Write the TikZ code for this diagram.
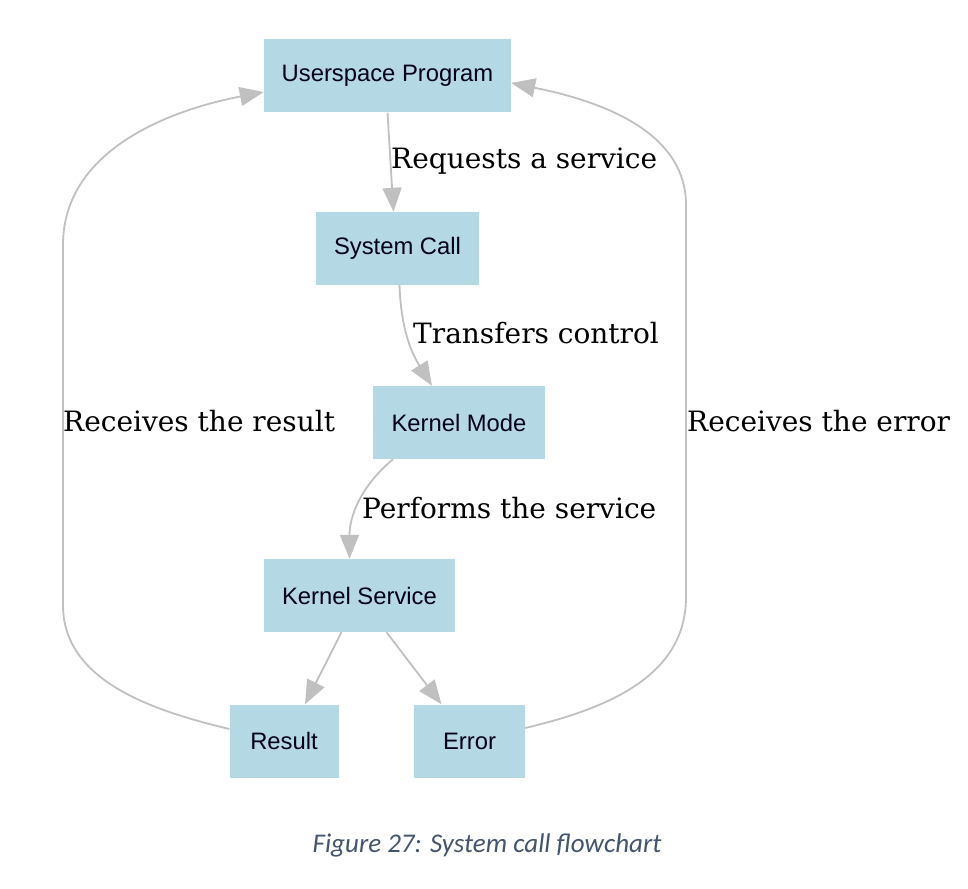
\documentclass[tikz,border=0pt]{standalone}
\usepackage{fontspec}
\setmainfont{DejaVu Serif}
\newfontfamily\boxfont{Liberation Sans}
\newfontfamily\capfont{Carlito}
\usepackage{xcolor}
\definecolor{box-blue}{RGB}{180,216,228}
\definecolor{edge-gray}{RGB}{192,192,192}
\definecolor{cap-gray}{RGB}{68,84,106}
\usetikzlibrary{arrows.meta}

\tikzset{
	box/.style={fill=box-blue, text=black!90!blue, font=\boxfont\fontsize{23.8}{28}\selectfont,
		minimum height=73pt, inner sep=0pt},
	edge/.style={draw=edge-gray, line width=1.8pt,
		-{Triangle[length=24pt,width=19pt]}},
	lbl/.style={anchor=west, inner sep=0pt, font=\fontsize{28}{32}\selectfont}
}

\begin{document}
\begin{tikzpicture}[x=1pt,y=-1pt]
	\useasboundingbox (0,0) rectangle (968,888);
	
	\node[box, minimum width=247pt] (usr)  at (387.5,76)  {Userspace Program};
	\node[box, minimum width=163pt] (sys)  at (397.5,248.5) {System Call};
	\node[box, minimum width=172pt] (kmod) at (459,422.5) {Kernel Mode};
	\node[box, minimum width=191pt] (ksrv) at (359.5,595.5) {Kernel Service};
	\node[box, minimum width=109pt] (res)  at (284,741) {Result};
	\node[box, minimum width=111pt] (err)  at (469.5,741) {Error};
	
	\draw[edge] (usr.south) -- ([xshift=-4pt]sys.north);
	\draw[edge] ([xshift=2pt]sys.south) to[out=-88,in=122] ([xshift=-27pt]kmod.north);
	\draw[edge] ([xshift=-66pt]kmod.south) to[out=-140,in=90] ([xshift=-10pt]ksrv.north);
	\draw[edge] ([xshift=-18pt]ksrv.south) -- ([xshift=21pt]res.north);
	\draw[edge] ([xshift=27pt]ksrv.south) -- ([xshift=-28pt]err.north);
	
	% return paths
	\draw[edge] ([yshift=12pt]res.west) .. controls (150,710) and (63,680) .. (63,605)
		-- (63,245) .. controls (63,150) and (170,110) .. ([yshift=-16pt]usr.west);
	\draw[edge] ([yshift=13pt]err.east) .. controls (610,708) and (686,675) .. (686,597)
		-- (686,205) .. controls (686,140) and (620,105) .. ([yshift=-7pt]usr.east);
	
	\node[lbl] (l1) at (391,161) {Requests a service};
	\node[lbl] (l2) at (413,333) {Transfers control};
	\node[lbl] (l3) at (362,508) {Performs the service};
	\node[lbl] (l4) at (63,421)  {Receives the result};
	\node[lbl] (l5) at (687,421) {Receives the error};
	
	\node[text=cap-gray, font=\capfont\itshape\fontsize{27}{31}\selectfont] (cap)
		at (487,845) {Figure 27: System call flowchart};
\end{tikzpicture}
\end{document}
